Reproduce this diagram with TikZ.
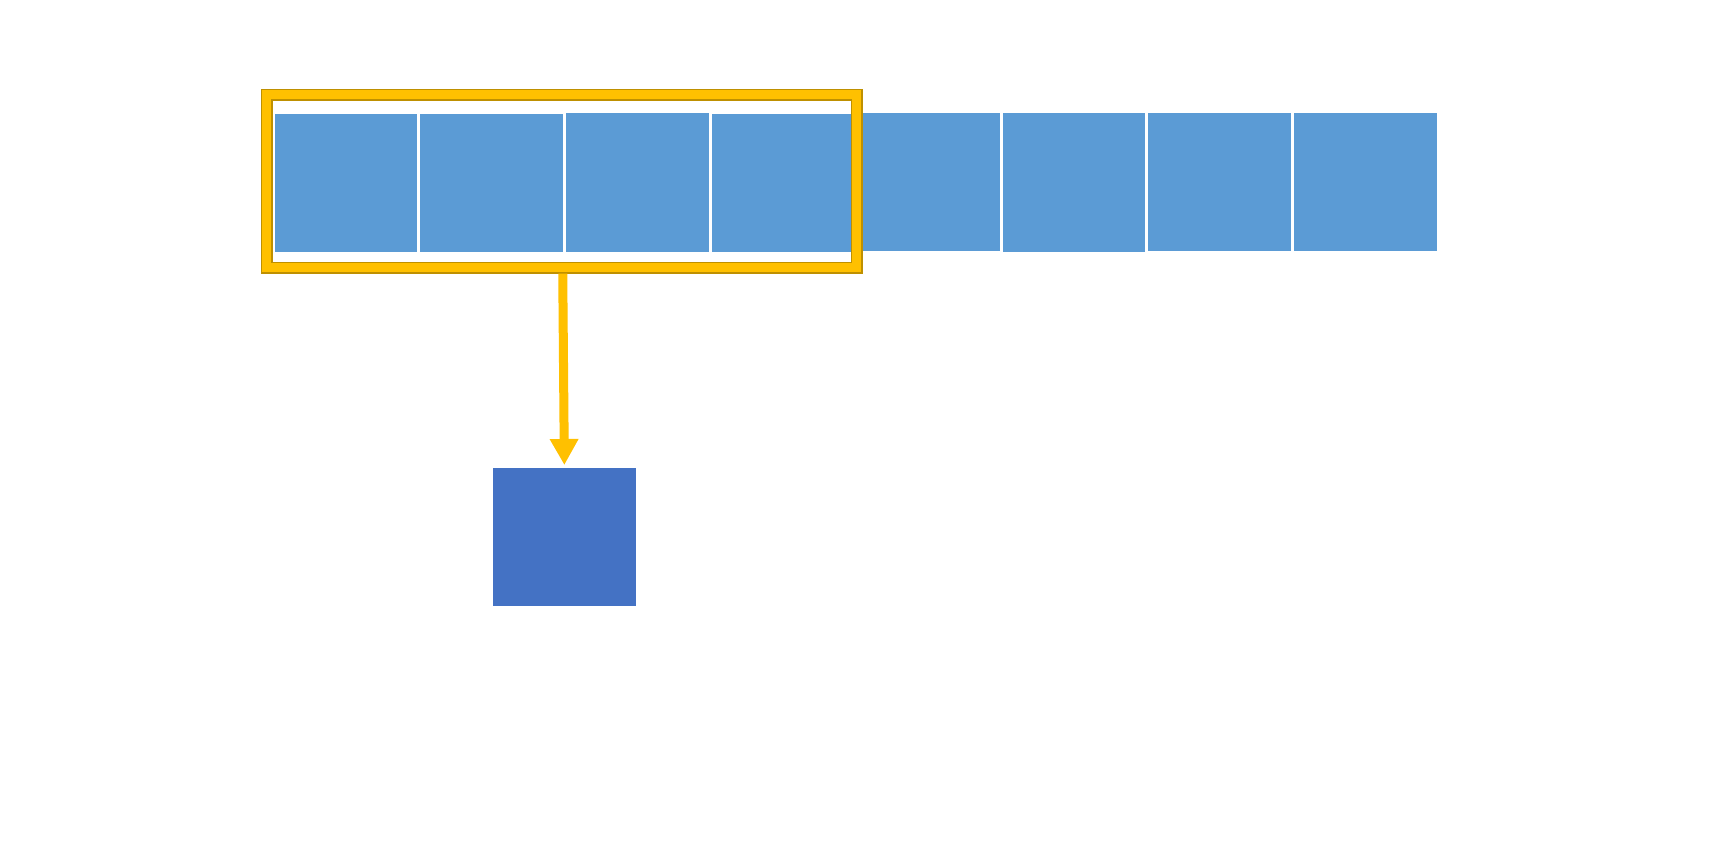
\documentclass[tikz,border=0pt]{standalone}
\usetikzlibrary{arrows.meta}
\definecolor{gold}{HTML}{FFC000}
\definecolor{darkgold}{HTML}{BF9000}
\definecolor{cellblue}{HTML}{5B9BD5}
\definecolor{outblue}{HTML}{4472C4}
\begin{document}
\begin{tikzpicture}[x=1pt,y=-1pt,
  cell/.style={fill=cellblue, draw=none, inner sep=0pt, outer sep=0pt, minimum width=143pt, minimum height=138pt},
  outcell/.style={fill=outblue, draw=none, inner sep=0pt, outer sep=0pt, minimum width=142.7pt, minimum height=137.7pt},
  window/.style={draw=darkgold, line width=1.3pt, double=gold, double distance=9.1pt, inner sep=0pt, outer sep=5.85pt, minimum width=590pt, minimum height=173pt},
  flow/.style={draw=gold, line width=9pt, -{Triangle[width=27pt,length=26pt]}}]
\useasboundingbox (0,0) rectangle (1725,845);
\fill[white] (0,0) rectangle (1725,845);
% cells
\node[cell, minimum width=142pt] (b1) at (346,183) {};
\node[cell] (b2) at (491.5,183) {};
\node[cell, minimum height=139pt] (b3) at (637.5,182.5) {};
\node[cell] (b4) at (783.5,183) {};
\node[cell, minimum width=142pt] (b5) at (929,182) {};
\node[cell, minimum width=142pt, minimum height=139pt] (b6) at (1074,182.5) {};
\node[cell] (b7) at (1219.5,182) {};
\node[cell] (b8) at (1365.5,182) {};
% output square
\node[outcell] (out) at (564.35,536.85) {};
% window frame
\node[window] (frame) at (561.85,181.35) {};
% arrow
\draw[flow] ([xshift=0.9pt]frame.south) -- ([yshift=3pt]out.north);
\end{tikzpicture}
\end{document}
